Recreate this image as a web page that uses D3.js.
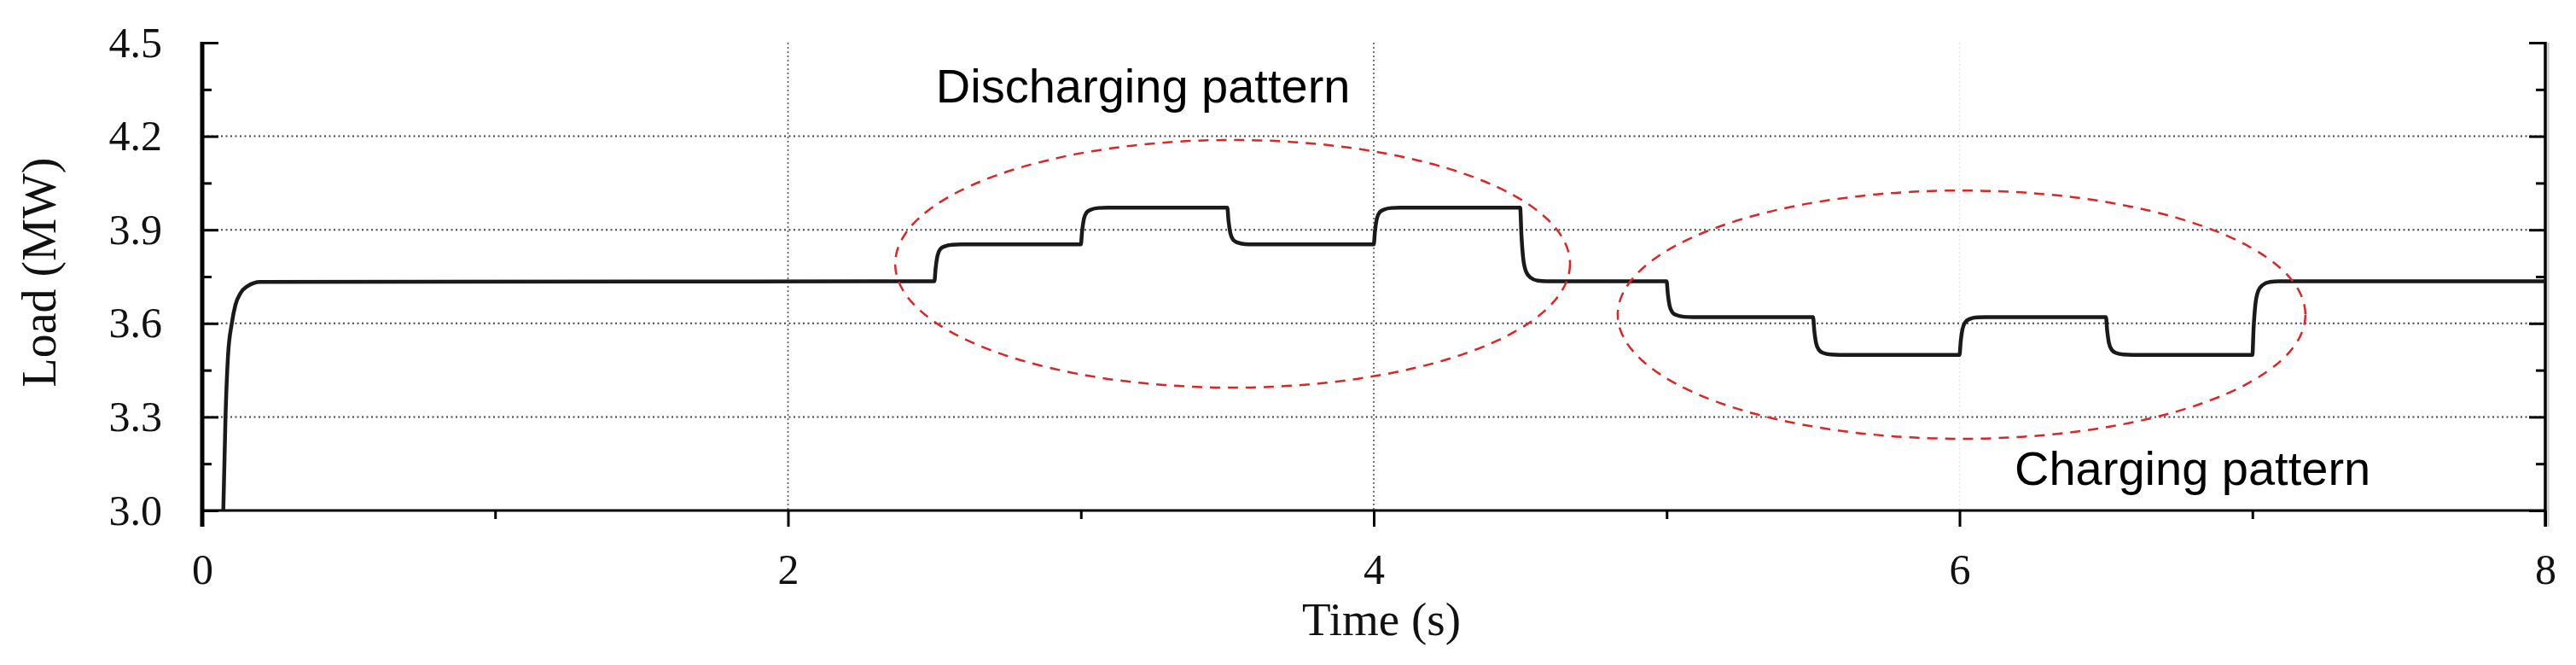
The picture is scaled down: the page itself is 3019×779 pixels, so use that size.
<!DOCTYPE html>
<html>
<head>
<meta charset="utf-8">
<script src="https://cdn.jsdelivr.net/npm/d3@7"></script>
<style>
  body { margin: 0; background: #fff; }
  svg { display: block; }
</style>
</head>
<body>
<svg id="load-plot"></svg>
<script>
// time (s) and load (MW)
var timeVals = [0.072, 0.0795, 0.088, 0.101, 0.1136, 0.130, 0.154, 0.198,
  2.5, 2.504, 2.51, 2.52, 2.535, 2.56, 2.59,
  3.0, 3.004, 3.01, 3.02, 3.035, 3.06, 3.09,
  3.5, 3.504, 3.51, 3.52, 3.535, 3.56, 3.59,
  4.0, 4.004, 4.01, 4.02, 4.035, 4.06, 4.09,
  4.5, 4.504, 4.51, 4.52, 4.535, 4.56, 4.59,
  5.0, 5.004, 5.01, 5.02, 5.035, 5.06, 5.09,
  5.5, 5.504, 5.51, 5.52, 5.535, 5.56, 5.59,
  6.0, 6.004, 6.01, 6.02, 6.035, 6.06, 6.09,
  6.5, 6.504, 6.51, 6.52, 6.535, 6.56, 6.59,
  7.0, 7.004, 7.01, 7.02, 7.035, 7.06, 7.09,
  8.0];
var loadVals = [3.0, 3.3, 3.495, 3.6, 3.66, 3.696, 3.719, 3.733,
  3.735, 3.776, 3.815, 3.838, 3.847, 3.852, 3.853,
  3.853, 3.894, 3.933, 3.956, 3.965, 3.970, 3.971,
  3.971, 3.930, 3.891, 3.868, 3.859, 3.854, 3.853,
  3.853, 3.894, 3.933, 3.956, 3.965, 3.970, 3.971,
  3.971, 3.888, 3.811, 3.766, 3.747, 3.737, 3.735,
  3.735, 3.695, 3.657, 3.635, 3.626, 3.621, 3.620,
  3.620, 3.578, 3.538, 3.515, 3.505, 3.500, 3.499,
  3.499, 3.541, 3.581, 3.604, 3.614, 3.619, 3.620,
  3.620, 3.578, 3.538, 3.515, 3.505, 3.500, 3.499,
  3.499, 3.582, 3.659, 3.704, 3.723, 3.733, 3.735,
  3.735];

var xMajor = [0, 2, 4, 6, 8];
var xMinor = [1, 3, 5, 7];
var yMajor = [3.0, 3.3, 3.6, 3.9, 4.2, 4.5];
var yMinor = [3.15, 3.45, 3.75, 4.05, 4.35];
var yGrid = [3.3, 3.6, 3.9, 4.2];
var xGrid = [2, 4, 6];

// the two circled regions: centre time, centre load, half width, half height
var zoneNames = ["Discharging pattern", "Charging pattern"];
var zoneCx = [3.518, 6.007];
var zoneCy = [3.791, 3.628];
var zoneRx = [1.152, 1.174];
var zoneRy = [0.397, 0.398];
var zoneLabelT = [2.505, 6.188];
var zoneLabelV = [4.308, 3.082];

var width = 3019, height = 779;
var svg = d3.select("#load-plot").attr("width", width).attr("height", height);

var xScale = d3.scaleLinear().domain([0, 8]).range([237, 2983]);
var yScale = d3.scaleLinear().domain([3.0, 4.5]).range([598, 50]);

// grid
svg.append("g").selectAll("line").data(yGrid).enter().append("line")
  .attr("x1", xScale(0)).attr("x2", xScale(8))
  .attr("y1", function(d) { return yScale(d); })
  .attr("y2", function(d) { return yScale(d); })
  .attr("stroke", "#444").attr("stroke-width", 2)
  .attr("stroke-dasharray", "2,3.5");

svg.append("g").selectAll("line").data(xGrid).enter().append("line")
  .attr("x1", function(d) { return xScale(d); })
  .attr("x2", function(d) { return xScale(d); })
  .attr("y1", yScale(4.5)).attr("y2", yScale(3.0))
  .attr("stroke", function(d, i) { return i == 2 ? "#e6e6e6" : "#555"; })
  .attr("stroke-width", 1.6)
  .attr("stroke-dasharray", "2,3");

// axes
var tickFont = "'Liberation Serif', 'Times New Roman', serif";

var xAxis = svg.append("g").attr("transform", "translate(0," + yScale(3.0) + ")")
  .call(d3.axisBottom(xScale).tickValues(xMajor).tickSize(19).tickPadding(31)
    .tickFormat(d3.format("d")));
var xAxisMinor = svg.append("g").attr("transform", "translate(0," + yScale(3.0) + ")")
  .call(d3.axisBottom(xScale).tickValues(xMinor).tickSize(10).tickFormat(""));

var yAxis = svg.append("g").attr("transform", "translate(" + xScale(0) + ",0)")
  .call(d3.axisLeft(yScale).tickValues(yMajor).tickSize(-19).tickPadding(47)
    .tickFormat(d3.format(".1f")));
var yAxisMinor = svg.append("g").attr("transform", "translate(" + xScale(0) + ",0)")
  .call(d3.axisLeft(yScale).tickValues(yMinor).tickSize(-11).tickFormat(""));

var rAxis = svg.append("g").attr("transform", "translate(" + xScale(8) + ",0)")
  .call(d3.axisRight(yScale).tickValues(yMajor).tickSize(-19).tickFormat(""));
var rAxisMinor = svg.append("g").attr("transform", "translate(" + xScale(8) + ",0)")
  .call(d3.axisRight(yScale).tickValues(yMinor).tickSize(-11).tickFormat(""));

[xAxis, xAxisMinor, yAxis, yAxisMinor, rAxis, rAxisMinor].forEach(function(g) {
  g.select(".domain").remove();
  g.selectAll(".tick line").attr("stroke", "#000").attr("stroke-width", 3);
  g.selectAll("text").attr("font-family", tickFont).attr("font-size", 50)
    .attr("fill", "#111");
});

// axis lines
svg.append("line").attr("x1", xScale(0)).attr("x2", xScale(8))
  .attr("y1", yScale(3.0)).attr("y2", yScale(3.0))
  .attr("stroke", "#000").attr("stroke-width", 3);
svg.append("line").attr("x1", xScale(8) + 3.5).attr("x2", xScale(8) + 3.5)
  .attr("y1", yScale(4.5)).attr("y2", yScale(3.0) + 19)
  .attr("stroke", "#ccc").attr("stroke-width", 2.5);
svg.append("line").attr("x1", xScale(8)).attr("x2", xScale(8))
  .attr("y1", yScale(4.5) - 1).attr("y2", yScale(3.0) + 19)
  .attr("stroke", "#000").attr("stroke-width", 3.5);
svg.append("line").attr("x1", xScale(0)).attr("x2", xScale(0))
  .attr("y1", yScale(4.5) - 1).attr("y2", yScale(3.0) + 19)
  .attr("stroke", "#000").attr("stroke-width", 5);

// load curve
var points = timeVals.map(function(t, i) { return [t, loadVals[i]]; });
var line = d3.line()
  .x(function(d) { return xScale(d[0]); })
  .y(function(d) { return yScale(d[1]); })
  .curve(d3.curveMonotoneX);

svg.append("path").datum(points)
  .attr("d", line)
  .attr("fill", "none")
  .attr("stroke", "#1a1a1a")
  .attr("stroke-width", 4.5)
  .attr("stroke-linejoin", "round");

// circled zones
svg.append("g").selectAll("ellipse").data(zoneNames).enter().append("ellipse")
  .attr("cx", function(d, i) { return xScale(zoneCx[i]); })
  .attr("cy", function(d, i) { return yScale(zoneCy[i]); })
  .attr("rx", function(d, i) { return xScale(zoneCx[i] + zoneRx[i]) - xScale(zoneCx[i]); })
  .attr("ry", function(d, i) { return yScale(zoneCy[i] - zoneRy[i]) - yScale(zoneCy[i]); })
  .attr("fill", "none")
  .attr("stroke", "#dc2626")
  .attr("stroke-width", 2.5)
  .attr("stroke-dasharray", "12,9");

svg.append("g").selectAll("text").data(zoneNames).enter().append("text")
  .attr("x", function(d, i) { return xScale(zoneLabelT[i]); })
  .attr("y", function(d, i) { return yScale(zoneLabelV[i]); })
  .attr("font-family", "'Liberation Sans', Arial, sans-serif")
  .attr("font-size", 56)
  .attr("fill", "#000")
  .text(function(d) { return d; });

// axis titles
svg.append("text")
  .attr("x", 1619).attr("y", 744)
  .attr("text-anchor", "middle")
  .attr("font-family", tickFont).attr("font-size", 55).attr("fill", "#111")
  .text("Time (s)");

svg.append("text")
  .attr("transform", "translate(65,319) rotate(-90)")
  .attr("text-anchor", "middle")
  .attr("font-family", tickFont).attr("font-size", 56).attr("fill", "#111")
  .text("Load (MW)");
</script>
</body>
</html>
